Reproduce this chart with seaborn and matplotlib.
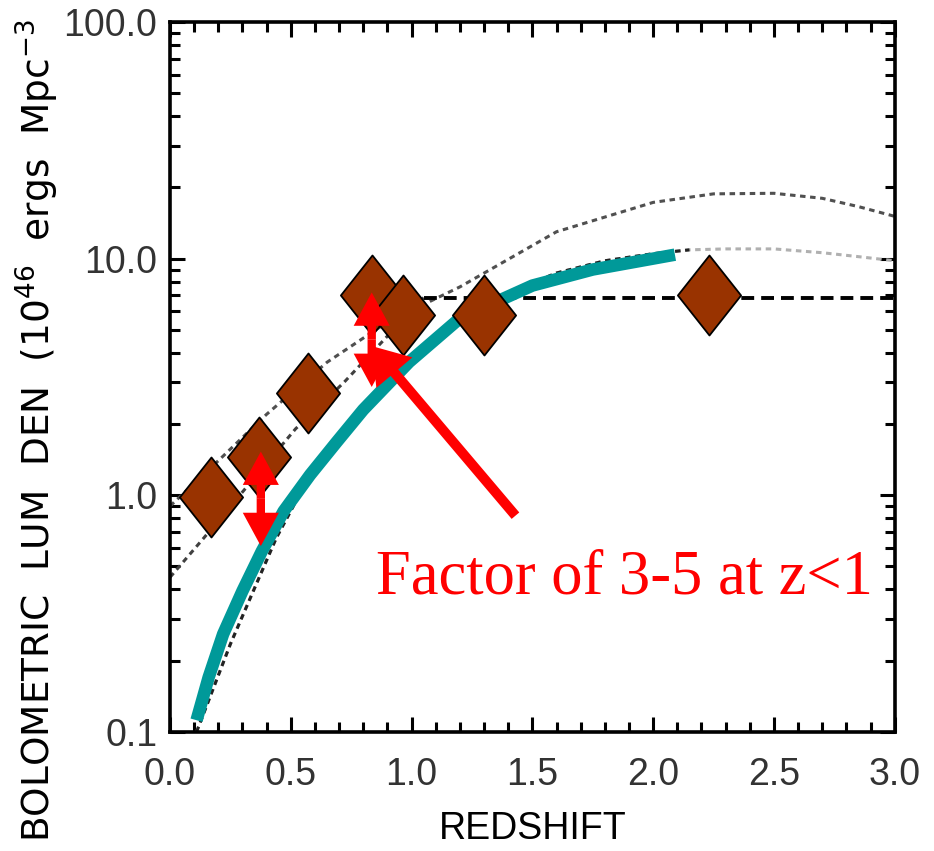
import numpy as np
import matplotlib
matplotlib.use("Agg")
import matplotlib.pyplot as plt
from matplotlib.path import Path
from matplotlib.ticker import FixedLocator, FixedFormatter, MultipleLocator, NullFormatter, FormatStrFormatter
import seaborn as sns

# data
diamond_z = [0.17, 0.37, 0.57, 0.835, 0.965, 1.30, 2.23]
diamond_lum = [0.98, 1.45, 2.7, 7.0, 5.8, 5.8, 7.0]

teal_z = [0.11, 0.16, 0.22, 0.30, 0.38, 0.47, 0.58, 0.69, 0.80, 0.99, 1.20, 1.50, 1.75, 2.09]
teal_lum = [0.112, 0.17, 0.259, 0.394, 0.58, 0.855, 1.22, 1.68, 2.3, 3.66, 5.6, 7.7, 9.0, 10.4]

# thin model just under the teal curve
modelb_z = [0.11, 0.25, 0.345, 0.44, 0.55, 0.80, 1.00, 1.20, 1.40, 1.60, 1.80, 2.00, 2.15, 2.30, 2.50, 2.70, 2.85, 3.00]
modelb_lum = [0.1, 0.235, 0.394, 0.66, 1.07, 2.3, 3.8, 5.6, 7.2, 8.7, 9.8, 10.5, 10.9, 11.0, 11.0, 10.6, 10.2, 9.8]

# upper dotted model
modelc_z = [0.0, 0.2, 0.4, 0.65, 0.9, 1.2, 1.6, 2.0, 2.25, 2.5, 2.7, 2.85, 3.0]
modelc_lum = [0.9, 1.4, 2.2, 3.65, 5.4, 7.6, 13.0, 17.3, 18.8, 18.9, 18.0, 16.6, 15.1]

# rising then flat model
modeld_z = [0.0, 0.14, 0.52, 0.72, 1.05, 3.0]
modeld_lum = [0.45, 0.66, 1.91, 3.0, 6.85, 6.85]

# red arrows: (z, low, high) and the pointer
range_arrows = [(0.376, 0.61, 1.53), (0.835, 2.87, 7.2)]
pointer_tail = (1.43, 0.82)
pointer_tip = (0.836, 4.27)

sns.set_theme(style="ticks")
plt.rcParams['font.family'] = ['Liberation Sans', 'DejaVu Sans']

fig = plt.figure(figsize=(9.34, 8.51), dpi=100)
ax = fig.add_axes([0.182, 0.140, 0.776, 0.834])

dot = (0, (1.8, 1.5))
sns.lineplot(x=modelc_z, y=modelc_lum, ax=ax, color='#505050', lw=2.2, linestyle=dot, zorder=2)

bz = np.array(modelb_z)
bl = np.array(modelb_lum)
sns.lineplot(x=bz, y=bl, ax=ax, color='#b0b0b0', lw=2.2, linestyle=dot, zorder=2)
m = bz <= 2.15
sns.lineplot(x=bz[m], y=bl[m], ax=ax, color='#222222', lw=2.2, linestyle=dot, zorder=2)

dz = np.array(modeld_z)
dl = np.array(modeld_lum)
rise = dz <= 1.05
flat = dz >= 1.05
sns.lineplot(x=dz[rise], y=dl[rise], ax=ax, color='#404040', lw=2.2, linestyle=dot, zorder=2)
sns.lineplot(x=dz[flat], y=dl[flat], ax=ax, color='black', lw=2.8, linestyle=(0, (3.3, 1.8)), zorder=2)

sns.lineplot(x=teal_z, y=teal_lum, ax=ax, color='#009999', lw=9, zorder=3,
             solid_capstyle='butt', solid_joinstyle='round')

diamond = Path([(0, 1), (0.79, 0), (0, -1), (-0.79, 0), (0, 1)],
               [Path.MOVETO, Path.LINETO, Path.LINETO, Path.LINETO, Path.CLOSEPOLY])
sns.scatterplot(x=diamond_z, y=diamond_lum, ax=ax, marker=diamond, s=57.6 ** 2,
                color='#993300', edgecolor='black', linewidth=1.3, zorder=5)

red = '#ff0000'
for z, lo, hi in range_arrows:
    mid = np.sqrt(lo * hi)
    for end in (lo, hi):
        ax.annotate('', xy=(z, end), xytext=(z, mid),
                    arrowprops=dict(arrowstyle='simple,head_length=2.4,head_width=2.6,tail_width=0.6',
                                    mutation_scale=10, color=red, lw=0,
                                    shrinkA=0, shrinkB=0), zorder=6)
ax.annotate('', xy=pointer_tip, xytext=pointer_tail,
            arrowprops=dict(arrowstyle='simple,head_length=2.5,head_width=3.4,tail_width=0.72',
                            mutation_scale=10, color=red, lw=0,
                            shrinkA=0, shrinkB=0), zorder=6)

ax.text(0.852, 0.384, 'Factor of 3-5 at z<1', color=red, fontsize=45,
        family='Liberation Serif', va='baseline', ha='left', zorder=7)

ax.set_yscale('log')
ax.set_xlim(0, 3)
ax.set_ylim(0.1, 100)

ax.yaxis.set_major_locator(FixedLocator([0.1, 1, 10, 100]))
ax.yaxis.set_major_formatter(FixedFormatter(['0.1', '1.0', '10.0', '100.0']))
ax.yaxis.set_minor_formatter(NullFormatter())
ax.xaxis.set_major_locator(MultipleLocator(0.5))
ax.xaxis.set_minor_locator(MultipleLocator(0.1))
ax.xaxis.set_major_formatter(FormatStrFormatter('%.1f'))

ax.tick_params(which='both', direction='in', top=True, right=True, color='black', width=2.2)
ax.tick_params(which='major', length=11)
ax.tick_params(which='minor', length=7)
ax.tick_params(axis='x', which='major', pad=18, labelsize=27, labelcolor='#333333')
ax.tick_params(axis='y', which='major', pad=9, labelsize=27, labelcolor='#333333')

for s in ax.spines.values():
    s.set_color('black')
    s.set_linewidth(2.6)

ax.set_xlabel('REDSHIFT', fontsize=27, color='black')
ax.xaxis.set_label_coords(0.5, -0.112)
ax.set_ylabel('BOLOMETRIC  LUM  DEN  (10$^{46}$  ergs  Mpc$^{-3}$', fontsize=27,
              color='black', family='DejaVu Sans')
ax.yaxis.set_label_coords(-0.151, 0.425)

fig.savefig('out.png', dpi=100, facecolor='white')
